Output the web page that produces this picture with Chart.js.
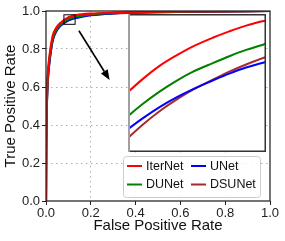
<!DOCTYPE html>
<html>
<head>
<meta charset="utf-8">
<script src="https://cdn.jsdelivr.net/npm/chart.js@4.4.1/dist/chart.umd.min.js"></script>
<style>
  html, body { margin: 0; padding: 0; background: #fff; }
  #wrap { position: relative; width: 285px; height: 241px; }
  #mainChart { position: absolute; left: 0; top: 0; }
  #insetChart { position: absolute; left: 128px; top: 14px; background: #fff; }
</style>
</head>
<body>
<div id="wrap">
  <canvas id="mainChart" width="285" height="241"></canvas>
  <canvas id="insetChart" width="138" height="138"></canvas>
</div>
<script>
// ROC data (false positive rate -> true positive rate)
const fpr = [0, 0.001, 0.003, 0.006, 0.01, 0.018, 0.03, 0.045, 0.062, 0.075,
  0.08, 0.0853, 0.0913, 0.0974, 0.1034, 0.1107, 0.1167, 0.1228, 0.13, 0.135,
  0.2, 0.3, 0.5, 0.7, 1.0];
const iterNetTpr = [0, 0.3, 0.5, 0.62, 0.7, 0.785, 0.87, 0.91, 0.935, 0.9470,
  0.9517, 0.9564, 0.9611, 0.9649, 0.9682, 0.9714, 0.9737, 0.9758, 0.9777, 0.9789,
  0.986, 0.991, 0.996, 0.998, 1.0];
const duNetTpr = [0, 0.28, 0.48, 0.6, 0.68, 0.77, 0.855, 0.9, 0.926, 0.9386,
  0.9430, 0.9474, 0.9518, 0.9557, 0.9590, 0.9622, 0.9647, 0.9670, 0.9692, 0.9706,
  0.982, 0.989, 0.995, 0.998, 1.0];
const uNetTpr = [0, 0.27, 0.47, 0.59, 0.67, 0.76, 0.848, 0.895, 0.922, 0.9344,
  0.9383, 0.9422, 0.9462, 0.9497, 0.9527, 0.9559, 0.9584, 0.9606, 0.9626, 0.9638,
  0.978, 0.987, 0.994, 0.997, 1.0];
const dsuNetTpr = [0, 0.26, 0.46, 0.58, 0.665, 0.755, 0.845, 0.89, 0.918, 0.9303,
  0.9351, 0.9399, 0.9447, 0.9489, 0.9525, 0.9562, 0.9591, 0.9617, 0.9644, 0.9661,
  0.979, 0.988, 0.994, 0.997, 1.0];

const seriesNames = ['IterNet', 'DUNet', 'UNet', 'DSUNet'];
const seriesColors = ['#ff0000', '#008000', '#0000ff', '#a52a2a'];
const seriesValues = [iterNetTpr, duNetTpr, uNetTpr, dsuNetTpr];

const axisTicks = [0, 0.2, 0.4, 0.6, 0.8, 1.0];
const zoomX = [0.08, 0.13];
const zoomY = [0.93, 0.98];
const arrowFrom = [0.147, 0.896];
const arrowTo = [0.284, 0.637];

const FONT = '"Liberation Sans", Arial, sans-serif';

function makeDatasets(width) {
  return seriesNames.map((name, i) => ({
    label: name,
    data: fpr.map((x, j) => ({ x: x, y: seriesValues[i][j] })),
    borderColor: seriesColors[i],
    backgroundColor: seriesColors[i],
    borderWidth: width,
    pointRadius: 0,
    cubicInterpolationMode: 'monotone',
    fill: false
  }));
}

function axisOptions(title, isY) {
  return {
    type: 'linear',
    min: 0,
    max: 1,
    afterBuildTicks: scale => { scale.ticks = axisTicks.map(v => ({ value: v })); },
    afterFit: scale => {
      if (isY) scale.width = 46; else scale.height = 40;
    },
    ticks: {
      color: '#222',
      font: { family: FONT, size: 13 },
      padding: isY ? 2 : 1,
      maxRotation: 0,
      callback: v => v.toFixed(1)
    },
    grid: {
      color: ctx => (ctx.tick && (ctx.tick.value === 0 || ctx.tick.value === 1)) ? 'rgba(0,0,0,0)' : '#b0b0b0',
      lineWidth: 1,
      drawTicks: true,
      tickLength: 4,
      tickColor: '#222',
      tickWidth: 1
    },
    border: { display: false, dash: [1.5, 3.5] },
    title: {
      display: true,
      text: title,
      color: '#111',
      font: { family: FONT, size: 15 },
      padding: isY ? { top: 2, bottom: 0 } : { top: 0, bottom: 6 }
    }
  };
}

const decorations = {
  id: 'decorations',
  afterDraw(chart) {
    const { ctx, chartArea: a, scales: { x, y } } = chart;
    ctx.save();

    // spines
    ctx.strokeStyle = '#222';
    ctx.lineWidth = 1.25;
    ctx.strokeRect(a.left, a.top, a.right - a.left, a.bottom - a.top);

    // zoom rectangle
    ctx.strokeStyle = '#000';
    ctx.lineWidth = 1;
    const rx0 = x.getPixelForValue(zoomX[0]), rx1 = x.getPixelForValue(zoomX[1]);
    const ry0 = y.getPixelForValue(zoomY[1]), ry1 = y.getPixelForValue(zoomY[0]);
    ctx.strokeRect(rx0, ry0, rx1 - rx0, ry1 - ry0);

    // arrow
    const ax0 = x.getPixelForValue(arrowFrom[0]), ay0 = y.getPixelForValue(arrowFrom[1]);
    const ax1 = x.getPixelForValue(arrowTo[0]), ay1 = y.getPixelForValue(arrowTo[1]);
    const ang = Math.atan2(ay1 - ay0, ax1 - ax0);
    const headLen = 10, headW = 4;
    const bx = ax1 - headLen * Math.cos(ang), by = ay1 - headLen * Math.sin(ang);
    ctx.lineWidth = 1.6;
    ctx.beginPath();
    ctx.moveTo(ax0, ay0);
    ctx.lineTo(bx, by);
    ctx.stroke();
    ctx.fillStyle = '#000';
    ctx.beginPath();
    ctx.moveTo(ax1, ay1);
    ctx.lineTo(bx + headW * Math.sin(ang), by - headW * Math.cos(ang));
    ctx.lineTo(bx - headW * Math.sin(ang), by + headW * Math.cos(ang));
    ctx.closePath();
    ctx.fill();

    // legend
    ctx.fillStyle = 'rgba(255,255,255,0.85)';
    ctx.strokeStyle = '#cccccc';
    ctx.lineWidth = 1;
    ctx.beginPath();
    ctx.roundRect(123.5, 156.5, 137, 41, 3);
    ctx.fill();
    ctx.stroke();

    const cols = [127, 191];
    const rows = [166, 184.5];
    ctx.font = '12.5px ' + FONT;
    ctx.textBaseline = 'middle';
    seriesNames.forEach((name, i) => {
      const cx = cols[Math.floor(i / 2)], cy = rows[i % 2];
      ctx.strokeStyle = seriesColors[i];
      ctx.lineWidth = 2;
      ctx.beginPath();
      ctx.moveTo(cx, cy);
      ctx.lineTo(cx + 15, cy);
      ctx.stroke();
      ctx.fillStyle = '#111';
      ctx.fillText(name, cx + 19, cy + 0.5);
    });
    ctx.restore();
  }
};

new Chart(document.getElementById('mainChart'), {
  type: 'line',
  data: { datasets: makeDatasets(2.2) },
  options: {
    responsive: false,
    animation: false,
    layout: { padding: { top: 11, right: 15, left: 0, bottom: 0 } },
    plugins: { legend: { display: false }, tooltip: { enabled: false } },
    scales: {
      x: axisOptions('False Positive Rate', false),
      y: axisOptions('True Positive Rate', true)
    }
  },
  plugins: [decorations]
});

const insetFrame = {
  id: 'insetFrame',
  afterDraw(chart) {
    const { ctx, width, height } = chart;
    ctx.save();
    ctx.strokeStyle = '#333';
    ctx.lineWidth = 1.5;
    ctx.beginPath();
    ctx.moveTo(0, 0.75);
    ctx.lineTo(width - 0.75, 0.75);
    ctx.lineTo(width - 0.75, height - 0.75);
    ctx.lineTo(0, height - 0.75);
    ctx.stroke();
    ctx.strokeStyle = '#a0a0a0';
    ctx.lineWidth = 2;
    ctx.beginPath();
    ctx.moveTo(1, 0);
    ctx.lineTo(1, height);
    ctx.stroke();
    ctx.restore();
  }
};

new Chart(document.getElementById('insetChart'), {
  type: 'line',
  data: { datasets: makeDatasets(2) },
  options: {
    responsive: false,
    animation: false,
    layout: { padding: 0 },
    plugins: { legend: { display: false }, tooltip: { enabled: false } },
    scales: {
      x: { type: 'linear', min: zoomX[0], max: zoomX[1], display: false },
      y: { type: 'linear', min: zoomY[0], max: zoomY[1], display: false }
    }
  },
  plugins: [insetFrame]
});
</script>
</body>
</html>
